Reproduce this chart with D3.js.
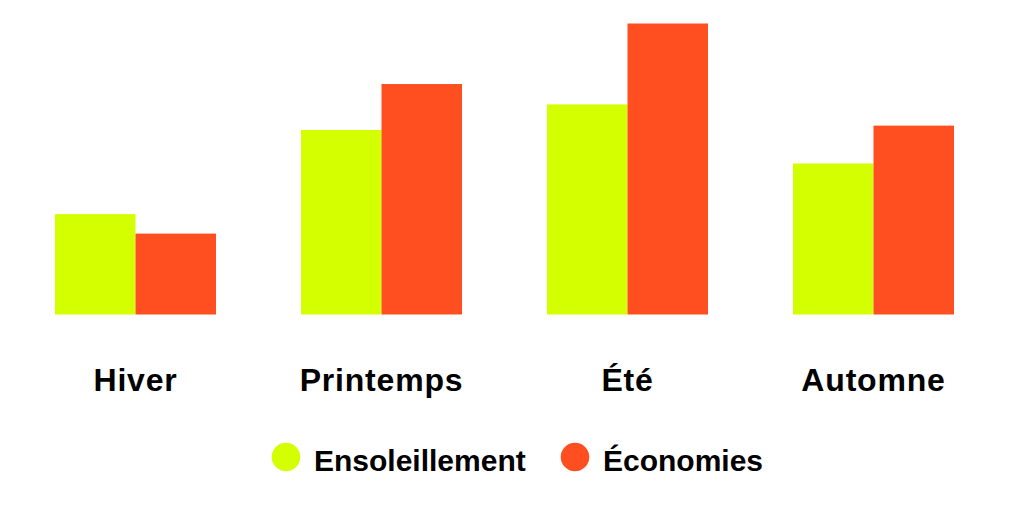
<!DOCTYPE html>
<html><head><meta charset="utf-8">
<script src="https://cdn.jsdelivr.net/npm/d3@7"></script>
<style>html,body{margin:0;padding:0;background:#fff;}svg{display:block;}</style>
</head><body>
<svg id="chart" width="1024" height="525"></svg>
<script>
const categories = ["Hiver", "Printemps", "Été", "Automne"];
const seriesNames = ["Ensoleillement", "Économies"];
const ensoleillement = [34.5, 63.4, 72.2, 51.9];
const economies = [27.8, 79.2, 100, 64.9];
const colors = ["#D4FF00", "#FF4F20"];

const svg = d3.select("#chart");
const baseline = 314.5;
const x = d3.scaleBand().domain(categories).range([55, 954]).paddingInner(0.3455).paddingOuter(0);
const xs = d3.scaleBand().domain(seriesNames).range([0, x.bandwidth()]).padding(0);
const y = d3.scaleLinear().domain([0, 100]).range([baseline, 23.5]);

const data = categories.map((c, i) => ({cat: c, vals: [ensoleillement[i], economies[i]]}));

const g = svg.append("g");
g.selectAll("g.grp").data(data).join("g").attr("class", "grp")
  .attr("transform", d => `translate(${x(d.cat)},0)`)
  .selectAll("rect").data(d => d.vals.map((v, j) => ({name: seriesNames[j], v, j})))
  .join("rect")
  .attr("x", d => xs(d.name))
  .attr("width", xs.bandwidth())
  .attr("y", d => y(d.v))
  .attr("height", d => baseline - y(d.v))
  .attr("fill", d => colors[d.j]);

const axis = d3.axisBottom(x).tickSize(0).tickPadding(0);
const ax = svg.append("g").attr("transform", "translate(0,391)").call(axis);
ax.select(".domain").remove();
ax.selectAll("text").attr("dy", 0).attr("y", 0)
  .attr("font-family", "'Liberation Sans', Arial, sans-serif")
  .attr("font-weight", "bold").attr("font-size", 32).attr("letter-spacing", 0.8)
  .attr("fill", "#000");

const legend = svg.append("g");
const legX = [286, 575];
seriesNames.forEach((n, i) => {
  legend.append("circle").attr("cx", legX[i]).attr("cy", 457).attr("r", 14.3).attr("fill", colors[i]);
  legend.append("text").attr("x", legX[i] + 28).attr("y", 471).text(n)
    .attr("font-family", "'Liberation Sans', Arial, sans-serif")
    .attr("font-weight", "bold").attr("font-size", 30).attr("fill", "#000");
});
</script>
</body></html>
